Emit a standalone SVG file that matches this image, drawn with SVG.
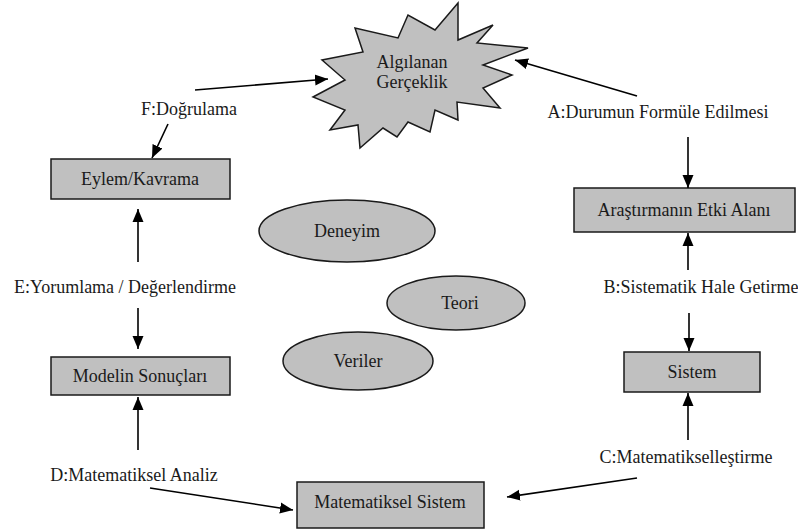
<svg xmlns="http://www.w3.org/2000/svg" width="798" height="530" viewBox="0 0 798 530">
<style>
.shape{fill:#c0c0c0;stroke:#1a1a1a;stroke-width:1.5}
.t{font-family:"Liberation Serif","Times New Roman",serif;font-size:18px;fill:#1a1a1a;text-anchor:middle}
.c{stroke:#000;stroke-width:1.6;fill:none;marker-end:url(#ah)}
</style>
<defs>
<marker id="ah" markerUnits="userSpaceOnUse" markerWidth="14" markerHeight="14" viewBox="0 0 14 14" refX="13" refY="7" orient="auto">
<path d="M0,1.5 L13,7 L0,12.5 Z" fill="#000"/>
</marker>
</defs>
<rect width="798" height="530" fill="#fff"/>
<g id="star">
<polygon class="shape" points="458,3 435,30 408,15 398,38 355,28 363,52 322,60 345,80 313,97 345,110 330,130 358,125 360,148 383,128 397,137 408,122 430,132 435,110 458,120 457,102 500,108 483,88 512,75 483,65 528,48 477,43 493,25 458,40"/>
<text class="t" x="412" y="68">Algılanan</text>
<text class="t" x="412" y="88">Gerçeklik</text>
</g>
<g id="eylem">
<rect class="shape" x="51" y="159" width="179" height="40"/>
<text class="t" x="140" y="185">Eylem/Kavrama</text>
</g>
<g id="modelin">
<rect class="shape" x="51" y="357" width="179" height="38"/>
<text class="t" x="140" y="382">Modelin Sonuçları</text>
</g>
<g id="matsistem">
<rect class="shape" x="297" y="482" width="187" height="46"/>
<text class="t" x="390" y="508">Matematiksel Sistem</text>
</g>
<g id="arastirma">
<rect class="shape" x="574" y="188" width="221" height="44"/>
<text class="t" x="684" y="216">Araştırmanın Etki Alanı</text>
</g>
<g id="sistem">
<rect class="shape" x="624" y="352" width="136" height="40"/>
<text class="t" x="692" y="378">Sistem</text>
</g>
<g id="deneyim">
<ellipse class="shape" cx="347" cy="231" rx="88" ry="31"/>
<text class="t" x="347" y="237">Deneyim</text>
</g>
<g id="teori">
<ellipse class="shape" cx="456" cy="303" rx="69" ry="27"/>
<text class="t" x="460" y="309">Teori</text>
</g>
<g id="veriler">
<ellipse class="shape" cx="358" cy="361" rx="75" ry="29"/>
<text class="t" x="358" y="367">Veriler</text>
</g>
<g id="labels">
<text class="t" x="189" y="115">F:Doğrulama</text>
<text class="t" x="658" y="118">A:Durumun Formüle Edilmesi</text>
<text class="t" x="125" y="293">E:Yorumlama / Değerlendirme</text>
<text class="t" x="701" y="293">B:Sistematik Hale Getirme</text>
<text class="t" x="134" y="481">D:Matematiksel Analiz</text>
<text class="t" x="686" y="463">C:Matematikselleştirme</text>
</g>
<g id="connectors">
<line class="c" x1="195" y1="90" x2="328" y2="79"/>
<line class="c" x1="637" y1="96" x2="515" y2="60"/>
<line class="c" x1="168" y1="124" x2="152" y2="158"/>
<line class="c" x1="688" y1="137" x2="688" y2="188"/>
<line class="c" x1="688" y1="270" x2="688" y2="233"/>
<line class="c" x1="689" y1="313" x2="689" y2="351"/>
<line class="c" x1="688" y1="440" x2="688" y2="393"/>
<line class="c" x1="637" y1="478" x2="507" y2="497"/>
<line class="c" x1="150" y1="488" x2="293" y2="510"/>
<line class="c" x1="138" y1="450" x2="138" y2="397"/>
<line class="c" x1="138" y1="262" x2="138" y2="209"/>
<line class="c" x1="138" y1="308" x2="138" y2="349"/>
</g>
</svg>
